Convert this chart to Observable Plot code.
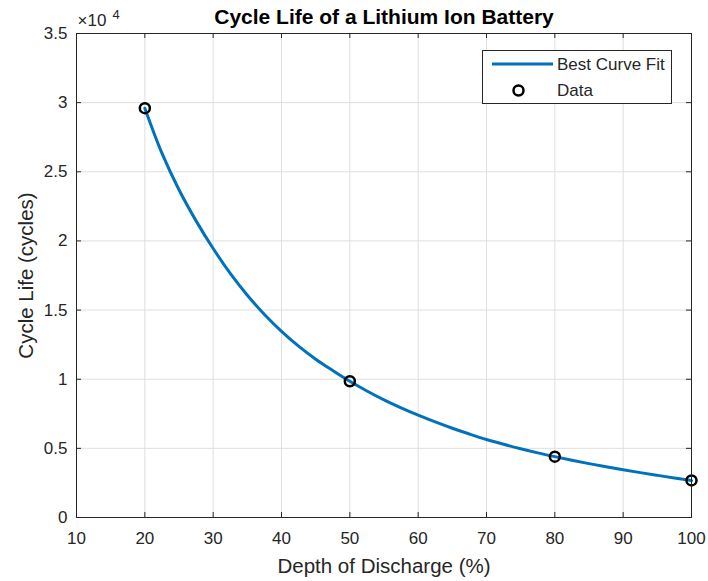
<!DOCTYPE html>
<html><head><meta charset="utf-8">
<script src="https://cdn.jsdelivr.net/npm/d3@7"></script>
<script src="https://cdn.jsdelivr.net/npm/@observablehq/plot@0.6"></script>
<style>
body{margin:0;background:#fff}
#chart svg{font-family:"Liberation Sans",Arial,sans-serif;background:#fff}
</style>
</head><body><div id="chart"></div>
<script>
// Data
const dataDoD = [20, 50, 80, 100];
const dataCycles = [29600, 9850, 4400, 2680];
const fitDoD = [20, 22.5, 25, 27.5, 30, 32.5, 35, 37.5, 40, 42.5, 45, 47.5, 50, 52.5, 55, 57.5, 60, 62.5, 65, 67.5, 70, 72.5, 75, 77.5, 80, 82.5, 85, 87.5, 90, 92.5, 95, 97.5, 100];
const fitCycles = [29600, 26350, 23700, 21450, 19450, 17650, 16070, 14680, 13460, 12390, 11450, 10630, 9850, 9150, 8510, 7930, 7400, 6910, 6455, 6035, 5640, 5295, 4975, 4675, 4400, 4140, 3895, 3665, 3450, 3245, 3050, 2860, 2680];
const xTicks = [10, 20, 30, 40, 50, 60, 70, 80, 90, 100];
const yTicks = [0, 5000, 10000, 15000, 20000, 25000, 30000, 35000];
const title = "Cycle Life of a Lithium Ion Battery";
const xLabel = "Depth of Discharge (%)";
const yLabel = "Cycle Life (cycles)";
const legendLabels = ["Best Curve Fit", "Data"];

const fit = fitDoD.map((x, i) => ({x, y: fitCycles[i]}));
const pts = dataDoD.map((x, i) => ({x, y: dataCycles[i]}));
const ink = "#262626";
const W = 708, H = 581, mL = 76, mR = 17, mT = 33, mB = 64;
const tickLen = 5;

const plot = Plot.plot({
  width: W, height: H,
  marginLeft: mL, marginRight: mR, marginTop: mT, marginBottom: mB,
  style: {fontFamily: '"Liberation Sans", Arial, sans-serif', background: "#fff"},
  x: {domain: [10, 100]},
  y: {domain: [0, 35000]},
  marks: [
    Plot.gridX(xTicks, {stroke: "#dfdfdf", strokeOpacity: 1}),
    Plot.gridY(yTicks, {stroke: "#dfdfdf", strokeOpacity: 1}),
    Plot.line(fit, {x: "x", y: "y", stroke: "#0072BD", strokeWidth: 3, curve: "catmull-rom"}),
    Plot.dot(pts, {x: "x", y: "y", r: 5, stroke: "#000", strokeWidth: 2.5, fill: "none"}),
    Plot.frame({stroke: ink}),
    // inward tick marks on all four sides
    Plot.tickX(xTicks, {x: d => d, stroke: ink, insetTop: H - mT - mB - tickLen}),
    Plot.tickX(xTicks, {x: d => d, stroke: ink, insetBottom: H - mT - mB - tickLen}),
    Plot.tickY(yTicks, {y: d => d, stroke: ink, insetRight: W - mL - mR - tickLen}),
    Plot.tickY(yTicks, {y: d => d, stroke: ink, insetLeft: W - mL - mR - tickLen}),
    // tick labels
    Plot.axisX(xTicks, {anchor: "bottom", tickSize: 0, tickPadding: 14, fontSize: 17, color: ink, label: null, tickFormat: d => String(d)}),
    Plot.axisY(yTicks, {anchor: "left", tickSize: 0, tickPadding: 9, fontSize: 17, color: ink, label: null, tickFormat: d => String(d / 10000)}),
    // labels
    Plot.text([xLabel], {frameAnchor: "bottom", textAnchor: "middle", lineAnchor: "middle", dy: 49, fontSize: 20.5, fill: ink}),
    Plot.text([yLabel], {frameAnchor: "left", textAnchor: "middle", lineAnchor: "middle", dx: -50, rotate: -90, fontSize: 20.5, fill: ink}),
    Plot.text([title], {frameAnchor: "top", textAnchor: "middle", lineAnchor: "middle", dy: -16, fontSize: 21, fontWeight: "bold", fill: "#000"}),
    Plot.text(["×10"], {frameAnchor: "top-left", textAnchor: "start", lineAnchor: "middle", dx: 1, dy: -13, fontSize: 17, fill: ink}),
    Plot.text(["4"], {frameAnchor: "top-left", textAnchor: "start", lineAnchor: "middle", dx: 36, dy: -19, fontSize: 13, fill: ink})
  ]
});

// Legend box (MATLAB-style, inside the axes)
const svg = d3.select(plot);
const lg = svg.append("g").attr("font-size", 17).attr("fill", ink).attr("text-anchor", "start");
lg.append("rect").attr("x", 482.5).attr("y", 50.5).attr("width", 189).attr("height", 53)
  .attr("fill", "#fff").attr("stroke", ink).attr("stroke-width", 1);
lg.append("line").attr("x1", 492).attr("x2", 553).attr("y1", 64).attr("y2", 64)
  .attr("stroke", "#0072BD").attr("stroke-width", 3);
lg.append("circle").attr("cx", 518.5).attr("cy", 90.5).attr("r", 5)
  .attr("fill", "none").attr("stroke", "#000").attr("stroke-width", 2.5);
lg.append("text").attr("x", 557).attr("y", 64).attr("dy", "0.35em").text(legendLabels[0]);
lg.append("text").attr("x", 557).attr("y", 90.5).attr("dy", "0.35em").text(legendLabels[1]);

document.getElementById("chart").append(plot);
</script>
</body></html>
